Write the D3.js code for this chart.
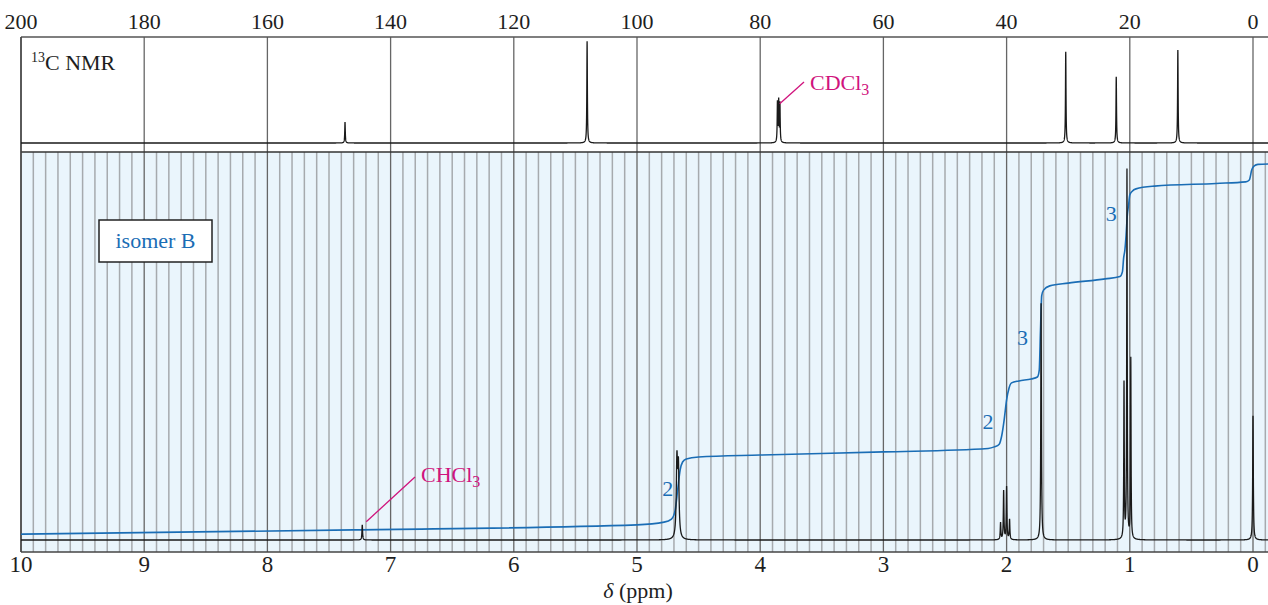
<!DOCTYPE html>
<html><head><meta charset="utf-8">
<script src="https://cdn.jsdelivr.net/npm/d3@7"></script>
<style>body{margin:0;background:#fff}svg{display:block}</style>
</head><body><svg id="c" width="1268" height="605"></svg>
<script>
// ---- data ----
const c13Ticks = [200,180,160,140,120,100,80,60,40,20,0];
const h1Ticks = [10,9,8,7,6,5,4,3,2,1,0];
const c13PeakPpm    = [147.4, 108.1, 77.2, 77.0, 76.8, 30.4, 22.2, 12.2];
const c13PeakHeight = [19.8, 96, 37.5, 38.5, 36.5, 86, 62.5, 87.7];
const h1PeakPpm    = [7.23, 4.676, 4.664, 2.049, 2.024, 2.0, 1.976, 1.72, 1.047, 1.023, 0.992, 0.0];
const h1PeakHeight = [3.9, 19.5, 17.5, 4.4, 12.6, 13.6, 5.2, 61.0, 40.0, 95.0, 46.5, 32.0];
const h1PeakWidth  = [0.003, 0.006, 0.006, 0.003, 0.003, 0.003, 0.003, 0.003, 0.0025, 0.0025, 0.0025, 0.003];
const integralPpm   = [10.0, 7.3, 5.0, 4.78, 4.72, 4.69, 4.67, 4.65, 4.63, 4.60, 4.5, 4.0, 3.0, 2.15, 2.1, 2.06, 2.04, 2.02, 2.0, 1.98, 1.96, 1.9, 1.8, 1.75, 1.735, 1.725, 1.715, 1.7, 1.65, 1.5, 1.2, 1.08, 1.06, 1.05, 1.04, 1.03, 1.02, 1.01, 1.0, 0.98, 0.95, 0.8, 0.3, 0.06, 0.03, 0.01, -0.01, -0.04, -0.13];
const integralValue = [1.5, 2.6, 3.9, 4.6, 5.4, 7.7, 12.9, 18.0, 20.1, 20.9, 21.4, 21.9, 22.7, 23.6, 24.0, 24.7, 26.8, 30.9, 36.1, 39.2, 40.5, 41.0, 41.5, 42.0, 43.8, 54.0, 63.0, 64.4, 65.5, 66.2, 67.3, 67.9, 69.1, 72.7, 74.7, 78.6, 83.8, 86.3, 88.9, 89.9, 90.5, 91.2, 91.9, 92.3, 92.8, 95.4, 96.4, 96.8, 96.9];
const stepLabels = ["2", "2", "3", "3"];
const stepLabelPpm = [4.75, 2.15, 1.87, 1.15];
const stepLabelValue = [11.3, 28.6, 50.3, 82.2];
const solventC = {text: "CDCl", sub: "3", ppm: 77.0, value: 38};
const solventH = {text: "CHCl", sub: "3", ppm: 7.23, value: 4.2};

// ---- layout ----
const svg = d3.select("#c");
const L = 21, R = 1268, topT = 37, topB = 152, botT = 152, botB = 552;
const xH = d3.scaleLinear().domain([10, 0]).range([L, 1253]);
const xC = d3.scaleLinear().domain([200, 0]).range([L, 1253]);
const yH = d3.scaleLinear().domain([0, 100]).range([540, 152]);
const yC = d3.scaleLinear().domain([0, 100]).range([143, 37]);
const serif = "'Liberation Serif','DejaVu Serif',serif";
const blue = "#1a6db5", mag = "#d0137d", ink = "#1e1e1e";

const defs = svg.append("defs");
defs.append("clipPath").attr("id","cb").append("rect").attr("x",L).attr("y",botT).attr("width",R-L).attr("height",botB-botT);
defs.append("clipPath").attr("id","ct").append("rect").attr("x",L).attr("y",topT-5).attr("width",R-L).attr("height",topB-topT+5);

// bottom panel background + grid
svg.append("rect").attr("x",L).attr("y",botT).attr("width",R-L).attr("height",botB-botT).attr("fill","#eaf5fc");
const minor = d3.range(-1, 101).map(i => i/10).filter(v => Math.abs(v - Math.round(v)) > 1e-6);
svg.append("g").selectAll("line").data(minor).join("line")
  .attr("x1", d=>xH(d)).attr("x2", d=>xH(d)).attr("y1", botT).attr("y2", botB)
  .attr("stroke","#a6aaae").attr("stroke-width",1.5);
svg.append("g").selectAll("line").data(h1Ticks).join("line")
  .attr("x1", d=>xH(d)).attr("x2", d=>xH(d)).attr("y1", topT).attr("y2", botB)
  .attr("stroke","#666").attr("stroke-width",1.3);

// frames
svg.append("line").attr("x1",L).attr("x2",R).attr("y1",topT).attr("y2",topT).attr("stroke","#555").attr("stroke-width",1.5);
svg.append("line").attr("x1",L).attr("x2",R).attr("y1",botT).attr("y2",botT).attr("stroke","#333").attr("stroke-width",1.5);
svg.append("line").attr("x1",L).attr("x2",R).attr("y1",botB).attr("y2",botB).attr("stroke","#444").attr("stroke-width",1.5);
svg.append("line").attr("x1",L).attr("x2",L).attr("y1",topT).attr("y2",botB).attr("stroke","#444").attr("stroke-width",1.5);

// spectra
function lor(x, c, h, g){ const d = x - c; return h * g*g/(d*d + g*g); }
// 13C
const cPts = [];
for (let p = 202; p >= -3; p -= 0.01) cPts.push(p);
c13PeakPpm.forEach(p => cPts.push(p));
cPts.sort((a,b)=>b-a);
const cLine = d3.line().x(p=>xC(p)).y(p=>yC(c13PeakPpm.reduce((s,c,i)=>s+lor(p,c,c13PeakHeight[i],0.05),0)));
svg.append("path").attr("clip-path","url(#ct)").attr("d", cLine(cPts)).attr("fill","none").attr("stroke","#1a1a1a").attr("stroke-width",1.3);

// integral
const iData = integralPpm.map((p,i)=>[p, integralValue[i]]);
svg.append("path").attr("clip-path","url(#cb)")
  .attr("d", d3.line().x(d=>xH(d[0])).y(d=>yH(d[1])).curve(d3.curveMonotoneX)(iData.slice().reverse()))
  .attr("fill","none").attr("stroke",blue).attr("stroke-width",1.6);

// 1H
const hPts = [];
for (let p = 10.1; p >= -0.15; p -= 0.0005) hPts.push(p);
h1PeakPpm.forEach(p => hPts.push(p));
hPts.sort((a,b)=>b-a);
const hLine = d3.line().x(p=>xH(p)).y(p=>yH(h1PeakPpm.reduce((s,c,i)=>s+lor(p,c,h1PeakHeight[i],h1PeakWidth[i]),0)));
svg.append("path").attr("clip-path","url(#cb)").attr("d", hLine(hPts)).attr("fill","none").attr("stroke","#1a1a1a").attr("stroke-width",1.3);

// tick labels
svg.append("g").selectAll("text").data(c13Ticks).join("text")
  .attr("x", d=>xC(d)).attr("y", 29).attr("text-anchor","middle")
  .attr("font-family",serif).attr("font-size",22).attr("fill",ink).text(d=>d);
svg.append("g").selectAll("text").data(h1Ticks).join("text")
  .attr("x", d=>xH(d)).attr("y", 572).attr("text-anchor","middle")
  .attr("font-family",serif).attr("font-size",23).attr("fill",ink).text(d=>d);

// axis title
const at = svg.append("text").attr("x", xH(5)+1).attr("y", 598).attr("text-anchor","middle")
  .attr("font-family",serif).attr("font-size",22).attr("fill",ink);
at.append("tspan").attr("font-style","italic").text("δ");
at.append("tspan").text(" (ppm)");

// 13C NMR label
const cl = svg.append("text").attr("x", 31).attr("y", 70).attr("font-family",serif).attr("font-size",22).attr("fill",ink);
cl.append("tspan").attr("font-size",14).attr("dy",-8).text("13");
cl.append("tspan").attr("dy",8).text("C NMR");

// isomer B box
svg.append("rect").attr("x",99).attr("y",220).attr("width",113).attr("height",42).attr("fill","#fff").attr("stroke","#222").attr("stroke-width",1.5);
svg.append("text").attr("x",155.5).attr("y",248).attr("text-anchor","middle").attr("font-family",serif).attr("font-size",22).attr("fill",blue).text("isomer B");

// step labels
svg.append("g").selectAll("text").data(stepLabels).join("text")
  .attr("x",(d,i)=>xH(stepLabelPpm[i])).attr("y",(d,i)=>yH(stepLabelValue[i])).attr("text-anchor","middle")
  .attr("font-family",serif).attr("font-size",22).attr("fill",blue).text(d=>d);

// solvent labels
function solvent(s, x, y, x1, y1, x2, y2){
  svg.append("line").attr("x1",x1).attr("y1",y1).attr("x2",x2).attr("y2",y2).attr("stroke",mag).attr("stroke-width",1.3);
  const t = svg.append("text").attr("x",x).attr("y",y).attr("font-family",serif).attr("font-size",22).attr("fill",mag);
  t.append("tspan").text(s.text);
  t.append("tspan").attr("font-size",16).attr("dy",5).text(s.sub);
}
solvent(solventC, 810, 90, 804, 82, xC(solventC.ppm)+1, yC(solventC.value)+1);
solvent(solventH, 421, 482, 415, 477, xH(solventH.ppm)+4, yH(solventH.value)-2);
</script></body></html>
